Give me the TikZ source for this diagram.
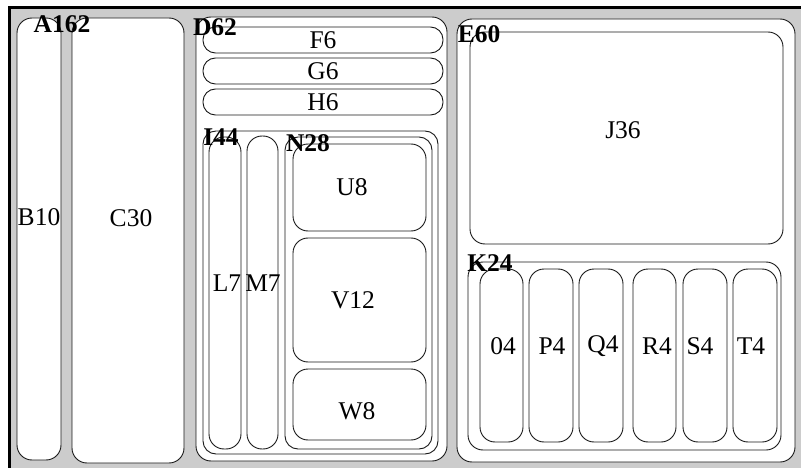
\documentclass[tikz,border=0pt]{standalone}
\usepackage{fontspec}
\setmainfont{Liberation Serif}
\usetikzlibrary{fit}
\begin{document}
\begin{tikzpicture}[x=1pt,y=-1pt,
  box/.style={draw=black!90, line width=0.9pt, fill=white, rounded corners=15pt, inner sep=0pt, outer sep=0pt},
  pill/.style={box, rounded corners=12.5pt},
  lbl/.style={font=\fontsize{25.5}{25.5}\selectfont, inner sep=0pt},
  hdr/.style={font=\bfseries\fontsize{25.5}{25.5}\selectfont, inner sep=0pt}]
\useasboundingbox (0,0) rectangle (801,468);
% frame
\fill[gray!40] (9,8) rectangle (801,468);
\draw[line width=3pt] (9,468) -- (9,8) -- (801,8);
% A162 group
\node[box, fit={(17,18) (61,460)}] (B10) {};
\node[box, fit={(72,18) (184,463)}] (C30) {};
% D62 group
\node[box, fit={(196,17) (447,461)}] (D62) {};
\node[pill, fit={(203,27) (443,53)}] (F6) {};
\node[pill, fit={(203,58) (443,84)}] (G6) {};
\node[pill, fit={(203,89) (443,115)}] (H6) {};
\node[box, rounded corners=13pt, fit={(203,131) (438,454)}] (I44) {};
\node[box, rounded corners=15pt, fit={(209,137) (241,449)}] (L7) {};
\node[box, rounded corners=15pt, fit={(247,136) (278,449)}] (M7) {};
\node[box, rounded corners=13pt, fit={(285,137) (432,449)}] (N28) {};
\node[box, fit={(293,144) (426,231)}] (U8) {};
\node[box, fit={(293,238) (426,362)}] (V12) {};
\node[box, fit={(293,369) (426,440)}] (W8) {};
% E60 group
\node[box, fit={(457,19) (795,462)}] (E60) {};
\node[box, fit={(470,32) (783,244)}] (J36) {};
\node[box, fit={(468,262) (781,450)}] (K24) {};
\node[box, fit={(480,269) (523,442)}] (O4) {};
\node[box, fit={(529,269) (573,442)}] (P4) {};
\node[box, fit={(579,269) (623,442)}] (Q4) {};
\node[box, fit={(633,269) (676,442)}] (R4) {};
\node[box, fit={(683,269) (727,442)}] (S4) {};
\node[box, fit={(733,269) (777,442)}] (T4) {};
% texts
\node[lbl] (tB10) at (39,217) {B10};
\node[lbl] (tC30) at (131,218) {C30};
\node[lbl] (tF6) at (323,40) {F6};
\node[lbl] (tG6) at (323,71) {G6};
\node[lbl] (tH6) at (323,102) {H6};
\node[lbl] (tL7) at (227,283) {L7};
\node[lbl] (tM7) at (263,283) {M7};
\node[lbl] (tU8) at (352,187) {U8};
\node[lbl] (tV12) at (353,300) {V12};
\node[lbl] (tW8) at (357,411) {W8};
\node[lbl] (tJ36) at (623,130) {J36};
\node[lbl] (tO4) at (503,346) {04};
\node[lbl] (tP4) at (552,346) {P4};
\node[lbl] (tQ4) at (603,346) {Q4};
\node[lbl] (tR4) at (657,346) {R4};
\node[lbl] (tS4) at (700,346) {S4};
\node[lbl] (tT4) at (751,346) {T4};
% headers
\node[hdr] (hA162) at (62,24) {A162};
\node[hdr] (hD62) at (215,27) {D62};
\node[hdr] (hI44) at (221,137) {I44};
\node[hdr] (hN28) at (308,143) {N28};
\node[hdr] (hE60) at (479,34) {E60};
\node[hdr] (hK24) at (490,263) {K24};
\end{tikzpicture}
\end{document}
